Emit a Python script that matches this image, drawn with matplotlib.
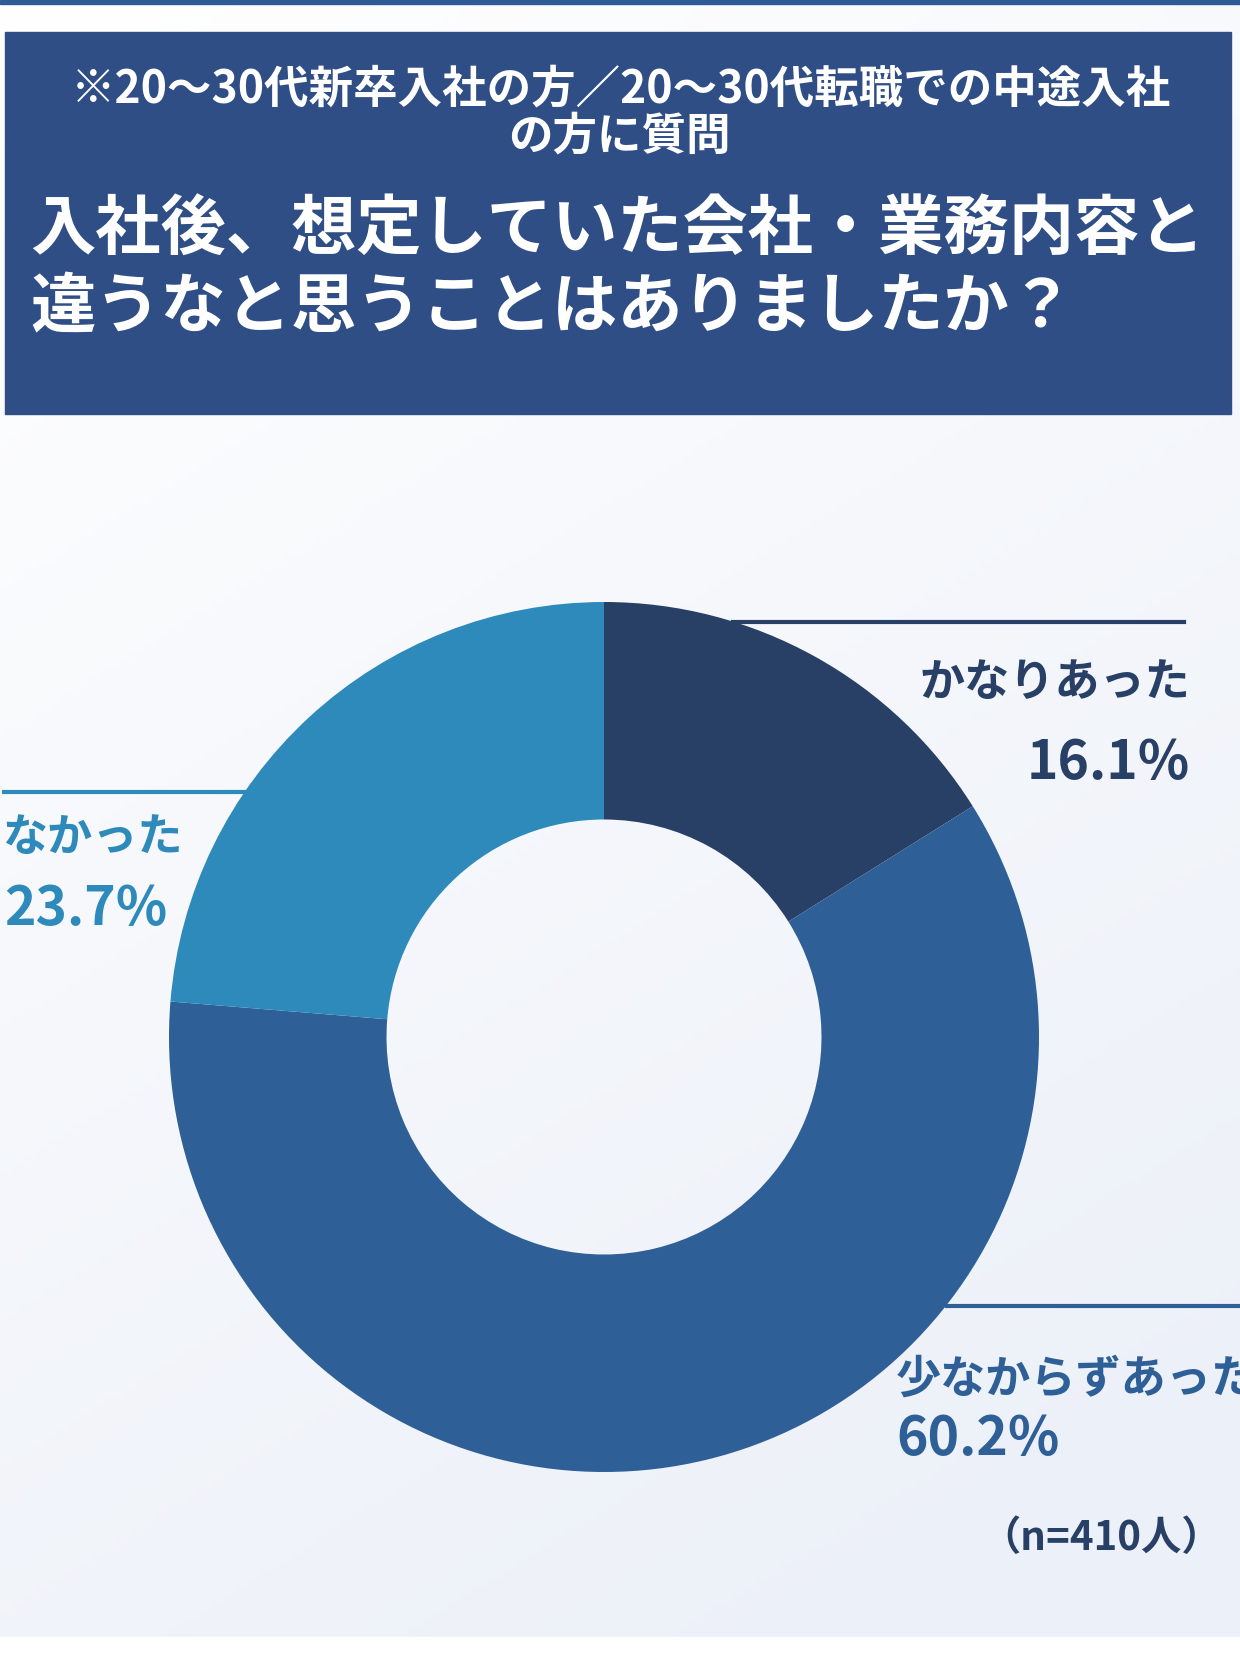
import numpy as np
import matplotlib
matplotlib.use("Agg")
import matplotlib.pyplot as plt
from matplotlib.lines import Line2D
from matplotlib.patches import Rectangle

plt.rcParams['font.family'] = ['Noto Sans CJK JP', 'DejaVu Sans']

# ---- data ----
categories = ["かなりあった", "少なからずあった", "なかった"]
values = [16.1, 60.2, 23.7]
value_labels = ["16.1%", "60.2%", "23.7%"]
colors = ["#283f66", "#2e5f97", "#2e8aba"]
subtitle = "※20〜30代新卒入社の方／20〜30代転職での中途入社\nの方に質問"
title_lines = ["入社後、想定していた会社・業務内容と", "違うなと思うことはありましたか？"]
sample_note = "（n=410人）"

W, H = 1240, 1653
fig = plt.figure(figsize=(W / 100, H / 100), dpi=100)

def fx(px):
    return px / W

def fy(py):
    return 1 - py / H

# background gradient
bg = fig.add_axes([0, 0, 1, 1])
bg.set_axis_off()
yy, xx = np.mgrid[0:1:200j, 0:1:200j]
t = np.clip(0.75 * yy + 0.35 * xx, 0, 1)
c0 = np.array([1.0, 1.0, 1.0])
c1 = np.array([0xec, 0xf0, 0xf8]) / 255
img = c0[None, None, :] * (1 - t[..., None]) + c1[None, None, :] * t[..., None]
bg.imshow(img, extent=[0, 1, 0, 1], origin="upper", aspect="auto")
bg.set_xlim(0, 1)
bg.set_ylim(0, 1)
# bottom white strip and top bar
bg.add_patch(Rectangle((0, 0), 1, 16 / H, color="white", zorder=2))
bg.add_patch(Rectangle((0, fy(4)), 1, 4 / H, color="#2e5a96", zorder=2))
# header box
bg.add_patch(Rectangle((fx(5), fy(414)), fx(1231) - fx(5), (414 - 32) / H,
                       color="#2f4e86", zorder=2))

# header texts
fig.text(fx(621), fy(90), subtitle.split("\n")[0], color="white", fontsize=32,
         fontweight="bold", ha="center", va="center")
fig.text(fx(619), fy(137), subtitle.split("\n")[1], color="white", fontsize=32,
         fontweight="bold", ha="center", va="center")
fig.text(fx(30), fy(230), title_lines[0], color="white", fontsize=47,
         fontweight="bold", ha="left", va="center")
fig.text(fx(30), fy(308), title_lines[1], color="white", fontsize=47,
         fontweight="bold", ha="left", va="center")

# donut chart
cx, cy, r = 604, 1037, 435
ax = fig.add_axes([fx(cx - r), fy(cy + r), 2 * r / W, 2 * r / H])
ax.pie(values, colors=colors, startangle=90, counterclock=False, radius=1,
       wedgeprops=dict(width=0.5, linewidth=0))
ax.set_xlim(-1, 1)
ax.set_ylim(-1, 1)
ax.set_aspect("equal")
ax.set_axis_off()

# leader lines (figure coordinates)
fig.add_artist(Line2D([fx(733), fx(1184)], [fy(622), fy(622)], color=colors[0], lw=3))
fig.add_artist(Line2D([fx(4), fx(245)], [fy(792), fy(792)], color=colors[2], lw=3))
fig.add_artist(Line2D([fx(947), fx(1240)], [fy(1306), fy(1306)], color=colors[1], lw=3,
                      zorder=0.5))

# labels
fig.text(fx(1190), fy(683), categories[0], color=colors[0], fontsize=32.5,
         fontweight="bold", ha="right", va="center")
fig.text(fx(1190), fy(763), value_labels[0], color=colors[0], fontsize=38.5,
         fontweight="bold", ha="right", va="center")
fig.text(fx(2), fy(838), categories[2], color=colors[2], fontsize=32.5,
         fontweight="bold", ha="left", va="center")
fig.text(fx(4), fy(910), value_labels[2], color=colors[2], fontsize=38.5,
         fontweight="bold", ha="left", va="center")
fig.text(fx(896), fy(1380), categories[1], color=colors[1], fontsize=32.5,
         fontweight="bold", ha="left", va="center")
fig.text(fx(896), fy(1440), value_labels[1], color=colors[1], fontsize=38.5,
         fontweight="bold", ha="left", va="center")
fig.text(fx(1222), fy(1538), sample_note, color=colors[0], fontsize=29,
         fontweight="bold", ha="right", va="center")

fig.savefig("out.png", dpi=100)
